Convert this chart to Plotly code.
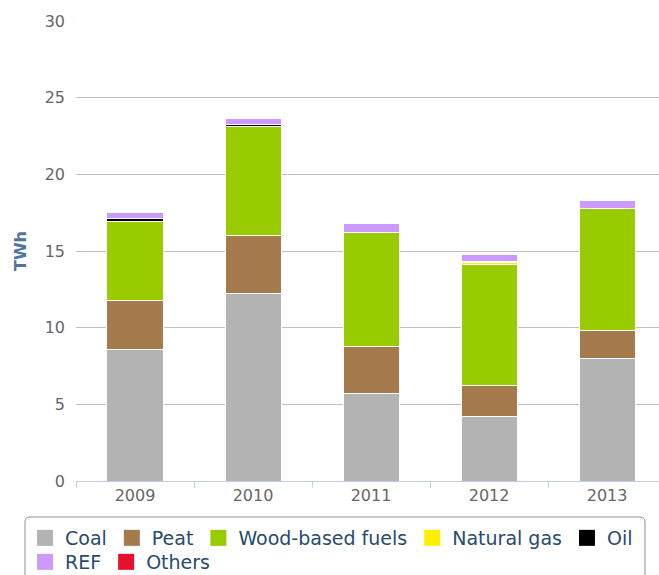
import plotly.graph_objects as go

# Fuel use by year (TWh), stacked from the bottom up
years = ["2009", "2010", "2011", "2012", "2013"]
coal = [8.6, 12.2, 5.7, 4.2, 8.0]
peat = [3.15, 3.8, 3.05, 2.05, 1.8]
wood = [5.2, 7.1, 7.45, 7.85, 8.0]
natural_gas = [0.0, 0.0, 0.0, 0.12, 0.0]
oil = [0.15, 0.15, 0.0, 0.12, 0.0]
ref = [0.4, 0.4, 0.6, 0.45, 0.5]
others = [0.0, 0.0, 0.0, 0.0, 0.0]

series = [
    ("Coal", coal, "#b3b3b3", "legend"),
    ("Peat", peat, "#a57a4c", "legend"),
    ("Wood-based fuels", wood, "#99cc00", "legend"),
    ("Natural gas", natural_gas, "#ffee00", "legend"),
    ("Oil", oil, "#000000", "legend"),
    ("REF", ref, "#cc99ff", "legend2"),
    ("Others", others, "#e8112d", "legend2"),
]

FONT = "DejaVu Sans"
W, H = 659, 575
ML, MR, MT, MB = 76, 0, 21, 94
PW, PH = W - ML - MR, H - MT - MB


def px_x(px):
    return (px - ML) / PW


def px_y(py):
    return (H - MB - py) / PH


fig = go.Figure()
for name, vals, color, _ in series:
    fig.add_trace(go.Bar(
        x=years, y=vals, name=name, showlegend=False,
        marker=dict(color=color, line=dict(color="#ffffff", width=1)),
    ))
# legend entries with larger square swatches, split over two rows
for name, vals, color, lg in series:
    fig.add_trace(go.Scatter(
        x=[None], y=[None], mode="markers", name=name, legend=lg,
        marker=dict(symbol="square", size=18, color=color, line=dict(width=0)),
    ))

legend_style = dict(
    orientation="h", traceorder="normal",
    xanchor="left", yanchor="top",
    bgcolor="rgba(0,0,0,0)", borderwidth=0,
    font=dict(family=FONT, size=19, color="#274b6d"),
    itemsizing="trace", itemclick=False, itemdoubleclick=False,
)

# rounded frame around both legend rows
x0, x1 = px_x(25), px_x(645)
y0, y1 = px_y(517), px_y(590)
rx, ry = 5 / PW, 5 / PH
frame = (
    f"M{x0 + rx},{y0} L{x1 - rx},{y0} Q{x1},{y0} {x1},{y0 - ry} "
    f"L{x1},{y1 + ry} Q{x1},{y1} {x1 - rx},{y1} "
    f"L{x0 + rx},{y1} Q{x0},{y1} {x0},{y1 + ry} "
    f"L{x0},{y0 - ry} Q{x0},{y0} {x0 + rx},{y0} Z"
)

fig.update_layout(
    width=W, height=H,
    margin=dict(l=ML, r=MR, t=MT, b=MB, autoexpand=False),
    paper_bgcolor="#ffffff", plot_bgcolor="#ffffff",
    barmode="stack", bargap=0.525,
    font=dict(family=FONT, size=16, color="#666666"),
    showlegend=True,
    legend=dict(x=px_x(25), y=px_y(519), **legend_style),
    legend2=dict(x=px_x(25), y=px_y(543), **legend_style),
    shapes=[dict(type="path", xref="paper", yref="paper", path=frame,
                 line=dict(color="#909090", width=1), layer="above")],
    xaxis=dict(
        type="category", range=[-0.5, 4.44],
        showline=True, linecolor="#c0d0e0", linewidth=1,
        ticks="outside", tickson="boundaries", ticklen=6, tickcolor="#c0d0e0",
        showgrid=False,
        tickfont=dict(family=FONT, size=16, color="#666666"),
    ),
    yaxis=dict(
        range=[0, 30], tickvals=[0, 5, 10, 15, 20, 25, 30],
        showgrid=True, gridcolor="#c0c0c0", gridwidth=1,
        zeroline=False, showline=False,
        ticklabelstandoff=10,
        tickfont=dict(family=FONT, size=16, color="#666666"),
        title=dict(text="<b>TWh</b>", font=dict(family=FONT, size=16, color="#4d759e"), standoff=14),
    ),
)

fig.write_html("out.html")
